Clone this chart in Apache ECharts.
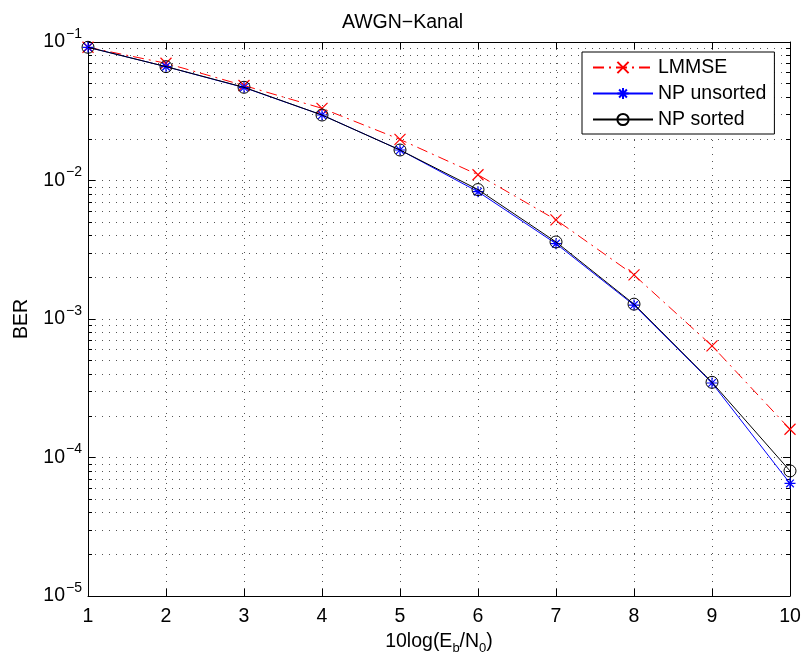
<!DOCTYPE html>
<html><head><meta charset="utf-8">
<script src="https://cdn.jsdelivr.net/npm/echarts@6/dist/echarts.min.js"></script>
<style>html,body{margin:0;padding:0;background:#fff}#c{width:805px;height:655px}</style>
</head><body><div id="c"></div>
<script>
const xValues = [1, 2, 3, 4, 5, 6, 7, 8, 9, 10];
const lmmse = [0.0916, 0.0702, 0.0485, 0.0332, 0.0198, 0.0110, 0.0052, 0.00208, 0.00064, 0.00016];
const npUnsorted = [0.0916, 0.0664, 0.0469, 0.0297, 0.0166, 0.0083, 0.0035, 0.00126, 0.000345, 0.000065];
const npSorted = [0.0916, 0.0664, 0.0471, 0.0297, 0.0166, 0.0086, 0.0036, 0.00128, 0.000349, 0.00008];
const seriesNames = ['LMMSE', 'NP unsorted', 'NP sorted'];
const yMin = 1e-5, yMax = 1e-1;
const titleText = 'AWGN\u2212Kanal';

const FONT = 'Liberation Sans, Arial, Helvetica, sans-serif';
const FS = 19.5;
// minor tick positions in log space (2..9 per decade)
const minorLog = [];
for (let e = -5; e < -1; e++) for (let k = 2; k <= 9; k++) minorLog.push(e + Math.log10(k));

const pair = a => a.map((v, i) => [xValues[i], v]);
const gridStyle = { color: '#555', width: 1, type: [1, 6] };
const crossPath = 'path://M0,0L10,10M10,0L0,10';
const starPath = 'path://M5,0L5,10M0,5L10,5M1.5,1.5L8.5,8.5M8.5,1.5L1.5,8.5';

const chart = echarts.init(document.getElementById('c'), null, { renderer: 'canvas' });
chart.setOption({
  backgroundColor: '#fff',
  animation: false,
  textStyle: { fontFamily: FONT },
  title: { text: titleText, left: 'center', top: 8, textStyle: { fontFamily: FONT, fontSize: FS, fontWeight: 'normal', color: '#000' } },
  grid: { left: 88, right: 15, top: 42, bottom: 59, containLabel: false, outerBoundsMode: 'none' },
  legend: {
    orient: 'vertical', left: 582, top: 52,
    backgroundColor: '#fff', borderColor: '#000', borderWidth: 1,
    padding: [5, 8, 4, 10], itemGap: 5, itemWidth: 60, itemHeight: 14,
    textStyle: { fontFamily: FONT, fontSize: FS, color: '#000', lineHeight: 21 },
    data: seriesNames
  },
  xAxis: [
    { type: 'value', min: 1, max: 10, interval: 1, position: 'bottom',
      name: '10log(E{sub|b}/N{sub|0})', nameLocation: 'middle', nameGap: 29,
      nameTextStyle: { fontFamily: FONT, fontSize: FS, color: '#000',
        rich: { sub: { fontFamily: FONT, fontSize: 13, color: '#000', verticalAlign: 'bottom', padding: [13, 0, 0, 0] } } },
      axisLine: { show: true, lineStyle: { color: '#000', width: 1 } },
      axisTick: { show: true, inside: true, length: 7, lineStyle: { color: '#000' } },
      axisLabel: { fontFamily: FONT, fontSize: FS, color: '#000', margin: 11 },
      splitLine: { show: true, lineStyle: gridStyle } },
    { type: 'value', min: 1, max: 10, interval: 1, position: 'top',
      axisLine: { show: true, onZero: false, lineStyle: { color: '#000', width: 1 } },
      axisTick: { show: true, inside: true, length: 7, lineStyle: { color: '#000' } },
      axisLabel: { show: false }, splitLine: { show: false } }
  ],
  yAxis: [
    { type: 'log', logBase: 10, min: yMin, max: yMax, position: 'left',
      name: 'BER', nameLocation: 'middle', nameGap: 56, nameRotate: 90,
      nameTextStyle: { fontFamily: FONT, fontSize: FS, color: '#000' },
      axisLine: { show: true, lineStyle: { color: '#000', width: 1 } },
      axisTick: { show: true, inside: true, length: 7, lineStyle: { color: '#000' } },
      axisLabel: { fontFamily: FONT, fontSize: FS, color: '#000', margin: 6,
        formatter: v => { const e = Math.round(Math.log10(v)); return '10{sup|' + (e < 0 ? '\u2212' : '') + Math.abs(e) + '}'; },
        rich: { sup: { fontFamily: FONT, fontSize: 14, color: '#000', verticalAlign: 'top', padding: [0, 0, 16, 1] } } },
      splitLine: { show: true, lineStyle: gridStyle } },
    { type: 'log', logBase: 10, min: yMin, max: yMax, position: 'right',
      axisLine: { show: true, onZero: false, lineStyle: { color: '#000', width: 1 } },
      axisTick: { show: true, inside: true, length: 7, lineStyle: { color: '#000' } },
      axisLabel: { show: false }, splitLine: { show: false } },
    { type: 'value', min: -5, max: -1, position: 'left',
      axisLine: { show: false },
      axisTick: { show: true, inside: true, length: 4, customValues: minorLog, lineStyle: { color: '#000' } },
      axisLabel: { show: false },
      splitLine: { show: true, lineStyle: gridStyle } },
    { type: 'value', min: -5, max: -1, position: 'right',
      axisLine: { show: false },
      axisTick: { show: true, inside: true, length: 4, customValues: minorLog, lineStyle: { color: '#000' } },
      axisLabel: { show: false }, splitLine: { show: false } }
  ],
  series: [
    { name: seriesNames[0], type: 'line', xAxisIndex: 0, yAxisIndex: 0, data: pair(lmmse),
      symbol: crossPath, symbolSize: 11, showSymbol: true,
      lineStyle: { color: '#ff0000', width: 1, type: [11, 5, 2, 5] },
      itemStyle: { color: 'rgba(0,0,0,0)', borderColor: '#ff0000', borderWidth: 1.2 }, z: 3 },
    { name: seriesNames[1], type: 'line', xAxisIndex: 0, yAxisIndex: 0, data: pair(npUnsorted),
      symbol: starPath, symbolSize: 11, showSymbol: true,
      lineStyle: { color: '#0000ff', width: 1 },
      itemStyle: { color: 'rgba(0,0,0,0)', borderColor: '#0000ff', borderWidth: 1.2 }, z: 4 },
    { name: seriesNames[2], type: 'line', xAxisIndex: 0, yAxisIndex: 0, data: pair(npSorted),
      symbol: 'circle', symbolSize: 12, showSymbol: true,
      lineStyle: { color: '#000000', width: 1 },
      itemStyle: { color: 'rgba(0,0,0,0)', borderColor: '#000000', borderWidth: 1 }, z: 5 }
  ]
});
</script></body></html>
